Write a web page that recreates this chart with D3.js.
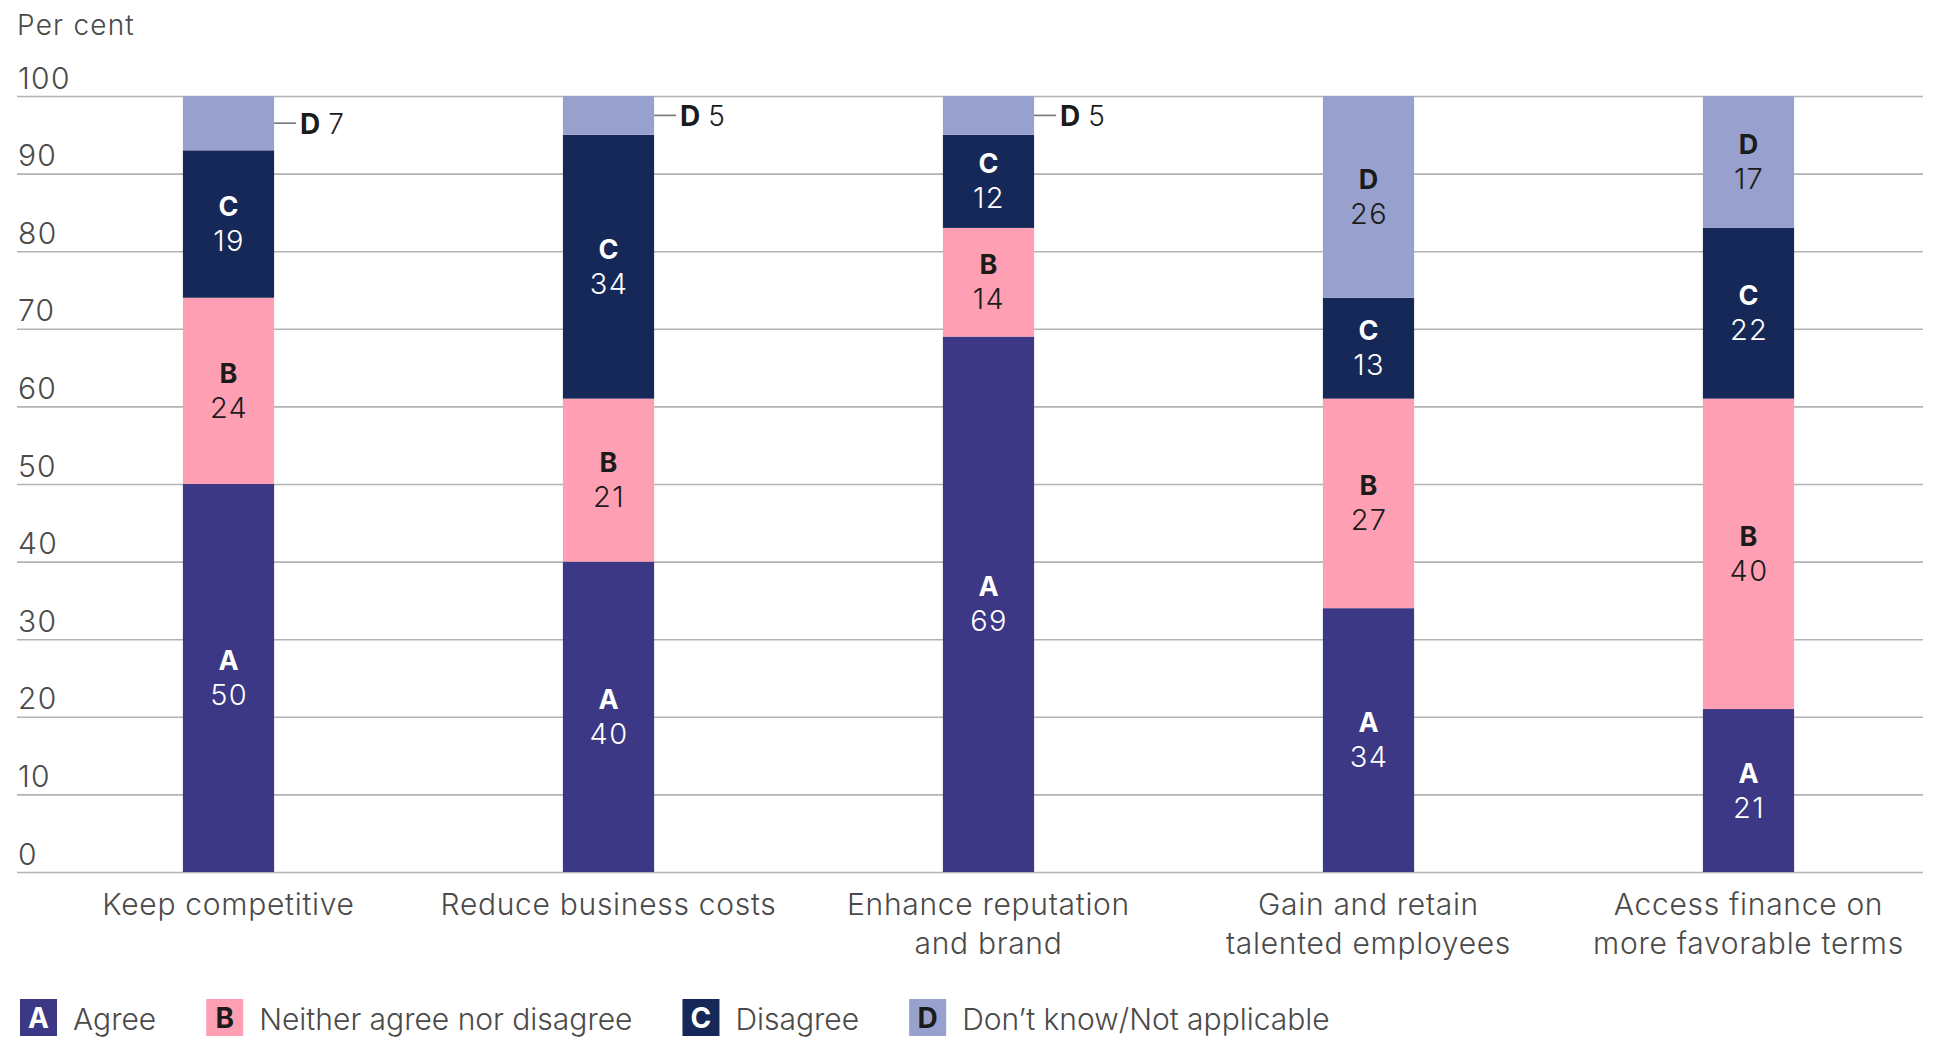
<!DOCTYPE html>
<html>
<head>
<meta charset="utf-8">
<script src="https://cdn.jsdelivr.net/npm/d3@7"></script>
<style>
  html, body { margin: 0; padding: 0; background: #fff; }
  svg { display: block; }
  text { font-family: Inter, "Open Sans", sans-serif; }
</style>
</head>
<body>
<svg id="chart" width="1937" height="1038"></svg>
<script>
// ---- Data ----
const categories = [
  "Keep competitive",
  "Reduce business costs",
  "Enhance reputation and brand",
  "Gain and retain talented employees",
  "Access finance on more favorable terms"
];
const categoryLines = [
  ["Keep competitive"],
  ["Reduce business costs"],
  ["Enhance reputation", "and brand"],
  ["Gain and retain", "talented employees"],
  ["Access finance on", "more favorable terms"]
];
const seriesKeys = ["A", "B", "C", "D"];
const seriesNames = ["Agree", "Neither agree nor disagree", "Disagree", "Don\u2019t know/Not applicable"];
const agree    = [50, 40, 69, 34, 21];
const neither  = [24, 21, 14, 27, 40];
const disagree = [19, 34, 12, 13, 22];
const dontKnow = [7, 5, 5, 26, 17];
const yTicks = [0, 10, 20, 30, 40, 50, 60, 70, 80, 90, 100];
const yTitle = "Per cent";

// ---- Styles ----
const colors = { A: "#3c3886", B: "#ff9fb4", C: "#162857", D: "#98a1cd" };
const labelColors = { A: "#ffffff", B: "#1b1b1b", C: "#ffffff", D: "#1b1b1b" };
const textGrey = "#4a4a4a";

const rows = categories.map((c, i) => ({
  category: c, A: agree[i], B: neither[i], C: disagree[i], D: dontKnow[i]
}));
const stacked = d3.stack().keys(seriesKeys)(rows);

const svg = d3.select("#chart");
const y = d3.scaleLinear().domain([0, 100]).range([872, 96]);
const x = d3.scaleBand().domain(categories).range([38.5, 1938.5])
  .paddingInner(0.76).paddingOuter(0.38);

// Gridlines + tick labels
const gridLeft = 17, gridRight = 1923;
const yAxis = svg.append("g")
  .attr("transform", `translate(${gridLeft},0)`)
  .call(d3.axisLeft(y).tickValues(yTicks).tickSize(-(gridRight - gridLeft)).tickFormat(d3.format("d")));
yAxis.select(".domain").remove();
yAxis.selectAll(".tick line").attr("stroke", "#b3b3b3").attr("stroke-width", 1.6);
yAxis.selectAll(".tick text")
  .attr("x", 1).attr("dy", null).attr("y", -8)
  .attr("text-anchor", "start")
  .attr("fill", textGrey)
  .style("font-size", "30px").style("font-weight", 300).style("letter-spacing", "1.3px");

svg.append("text").attr("x", 17).attr("y", 35)
  .attr("fill", textGrey).style("font-size", "28px").style("font-weight", 300)
  .style("letter-spacing", "1.2px")
  .text(yTitle);

// Bars
const layers = svg.append("g").selectAll("g").data(stacked).join("g")
  .attr("fill", d => colors[d.key]);
layers.selectAll("rect").data(d => d.map(v => Object.assign(v, { key: d.key }))).join("rect")
  .attr("x", d => x(d.data.category))
  .attr("width", x.bandwidth())
  .attr("y", d => y(d[1]))
  .attr("height", d => y(d[0]) - y(d[1]));

// Segment labels
const labelG = svg.append("g");
stacked.forEach(layer => {
  layer.forEach(seg => {
    const val = seg[1] - seg[0];
    const mid = (y(seg[0]) + y(seg[1])) / 2;
    const cx = x(seg.data.category) + x.bandwidth() / 2;
    if (val >= 10) {
      labelG.append("text").attr("x", cx).attr("y", mid - 8)
        .attr("text-anchor", "middle").attr("fill", labelColors[layer.key])
        .style("font-size", "27px").style("font-weight", 700).text(layer.key);
      labelG.append("text").attr("x", cx + 0.5).attr("y", mid + 27)
        .attr("text-anchor", "middle").attr("fill", labelColors[layer.key])
        .style("font-size", "29px").style("font-weight", 300).style("letter-spacing", "1.3px")
        .text(val);
    } else {
      const rx = x(seg.data.category) + x.bandwidth();
      labelG.append("line").attr("x1", rx).attr("x2", rx + 22)
        .attr("y1", mid).attr("y2", mid)
        .attr("stroke", "#777").attr("stroke-width", 1.6);
      const t = labelG.append("text").attr("x", rx + 26).attr("y", mid + 11)
        .attr("fill", "#1b1b1b").style("font-size", "28px");
      t.append("tspan").style("font-weight", 700).text(layer.key);
      t.append("tspan").style("font-weight", 300).text("\u00a0" + val);
    }
  });
});

// Category labels
const catG = svg.append("g");
categories.forEach((c, i) => {
  const t = catG.append("text")
    .attr("x", x(c) + x.bandwidth() / 2).attr("y", 915)
    .attr("text-anchor", "middle").attr("fill", textGrey)
    .style("font-size", "30px").style("font-weight", 300).style("letter-spacing", "0.7px");
  categoryLines[i].forEach((ln, j) => {
    t.append("tspan").attr("x", x(c) + x.bandwidth() / 2)
      .attr("dy", j === 0 ? 0 : 39).text(ln);
  });
});

// Legend
const legend = svg.append("g");
let lx = 20;
seriesKeys.forEach((k, i) => {
  legend.append("rect").attr("x", lx).attr("y", 999).attr("width", 37).attr("height", 37)
    .attr("fill", colors[k]);
  legend.append("text").attr("x", lx + 18.5).attr("y", 1028)
    .attr("text-anchor", "middle").attr("fill", labelColors[k])
    .style("font-size", "28px").style("font-weight", 700).text(k);
  const t = legend.append("text").attr("x", lx + 53).attr("y", 1030)
    .attr("fill", textGrey).style("font-size", "30px").style("font-weight", 300)
    .text(seriesNames[i]);
  lx = lx + 53 + t.node().getComputedTextLength() + 50;
});
</script>
</body>
</html>
